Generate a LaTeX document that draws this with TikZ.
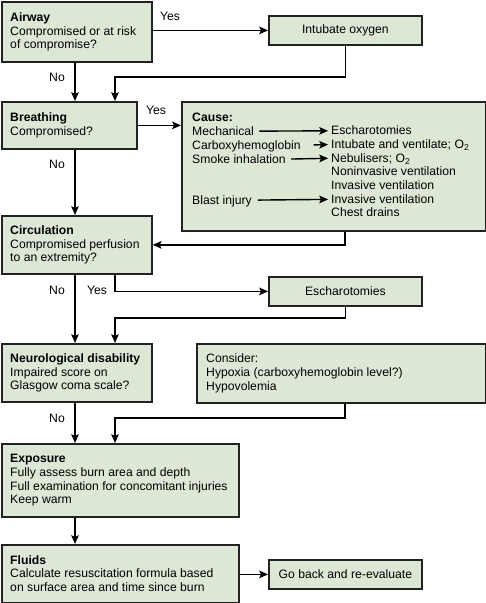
\documentclass[tikz,border=0pt]{standalone}
\usepackage{fontspec}
\setmainfont{Liberation Sans}
\usetikzlibrary{arrows.meta,positioning}
\definecolor{boxfill}{HTML}{DDE7D5}
\definecolor{boxline}{HTML}{222222}

\begin{document}
\begin{tikzpicture}[x=0.03cm, y=-0.03cm,
    box/.style={draw=boxline, fill=boxfill, line width=1.5pt, anchor=north west,
      inner sep=0pt, font=\fontsize{10.4}{11.7}\selectfont},
    txt/.style={anchor=west, align=left, inner sep=0pt, font=\fontsize{10.4}{11.7}\selectfont},
    item/.style={anchor=base west, inner sep=0pt, font=\fontsize{10.4}{11.7}\selectfont},
    lbl/.style={inner sep=0pt, font=\fontsize{10.4}{11.7}\selectfont},
    arr/.style={-{Stealth[length=7.5pt,width=6.5pt,inset=1.5pt]}, line width=1.2pt}]
    \useasboundingbox (0,0) rectangle (486,603);
    % Colonne delle frecce
    \coordinate (mainx) at (75,0);
    \coordinate (sidex) at (115,0);
    \coordinate (rightx) at (345,0);
    % Airway
    \node[box, minimum width=4.5cm, minimum height=1.8cm] (airway) at (1,1) {};
    \node[txt, right=0.27cm of airway.west] (airwaytxt) {\textbf{Airway}\\Compromised or at risk\\of compromise?};
    \node[box, minimum width=4.59cm, minimum height=0.87cm] (intubate) at (268,15) {Intubate oxygen};
    % Breathing
    \node[box, minimum width=4.05cm, minimum height=1.41cm] (breathing) at (1,101) {};
    \node[txt, right=0.27cm of breathing.west] (breathingtxt) {\textbf{Breathing}\\Compromised?};
    % Riquadro delle cause
    \node[box, minimum width=9.12cm, minimum height=3.87cm] (cause) at (181,101) {};
    \node[item] (causetitle) at (192,121) {\textbf{Cause:}};
    \node[item] (l1) at (192,135) {Mechanical};
    \node[item] (l2) at (192,149) {Carboxyhemoglobin};
    \node[item] (l3) at (192,163) {Smoke inhalation};
    \node[item] (l4) at (192,204) {Blast injury};
    \foreach \t [count=\i] in {Escharotomies, Intubate and ventilate; O\textsubscript{2},
        Nebulisers; O\textsubscript{2}, Noninvasive ventilation, Invasive ventilation,
        Invasive ventilation, Chest drains}
      \node[item] (r\i) at (331,{121+13.7*\i}) {\t};
    \draw[arr, shorten <=4.5pt, shorten >=2.5pt] ([yshift=3.3pt]l1.base east) -- ([yshift=3.3pt]r1.base west);
    \draw[arr, shorten <=11pt, shorten >=2.5pt] ([yshift=3.3pt]l2.base east) -- ([yshift=3.3pt]r2.base west);
    \draw[arr, shorten <=4.5pt, shorten >=2.5pt] ([yshift=3.3pt]l3.base east) -- ([yshift=3.3pt]r3.base west);
    \draw[arr, shorten <=5pt, shorten >=2.5pt] ([yshift=3.3pt]l4.base east) -- ([yshift=3.3pt]r6.base west);
    % Circulation
    \node[box, minimum width=4.5cm, minimum height=1.74cm] (circ) at (1,215) {};
    \node[txt, right=0.27cm of circ.west] (circtxt) {\textbf{Circulation}\\Compromised perfusion\\to an extremity?};
    \node[box, minimum width=4.59cm, minimum height=0.87cm] (eschar) at (268,276) {Escharotomies};
    % Neurological disability
    \node[box, minimum width=4.5cm, minimum height=1.74cm] (neuro) at (1,343) {};
    \node[txt, right=0.27cm of neuro.west] (neurotxt) {\textbf{Neurological disability}\\Impaired score on\\Glasgow coma scale?};
    \node[box, minimum width=8.67cm, minimum height=1.77cm] (consider) at (196,343) {};
    \node[txt, right=0.3cm of consider.west] (considertxt) {Consider:\\Hypoxia (carboxyhemoglobin level?)\\Hypovolemia};
    % Exposure
    \node[box, minimum width=7.11cm, minimum height=2.19cm] (expo) at (1,443) {};
    \node[txt, right=0.27cm of expo.west] (expotxt) {\textbf{Exposure}\\Fully assess burn area and depth\\Full examination for concomitant injuries\\Keep warm};
    % Fluids
    \node[box, minimum width=7.11cm, minimum height=1.725cm] (fluids) at (1,544) {};
    \node[txt, right=0.27cm of fluids.west] (fluidstxt) {\textbf{Fluids}\\Calculate resuscitation formula based\\on surface area and time since burn};
    \node[box, minimum width=4.59cm, minimum height=0.87cm] (goback) at (268,559) {Go back and re-evaluate};
    % Punti di raccordo
    \coordinate (j1) at (115,77);
    \coordinate (j2) at (115,318);
    \coordinate (j3) at (115,418);
    % Frecce principali
    \draw[arr] (mainx |- airway.south) -- (mainx |- breathing.north);
    \draw[arr] (mainx |- breathing.south) -- (mainx |- circ.north);
    \draw[arr] (mainx |- circ.south) -- (mainx |- neuro.north);
    \draw[arr] (mainx |- neuro.south) -- (mainx |- expo.north);
    \draw[arr] (mainx |- expo.south) -- (mainx |- fluids.north);
    % Rami laterali
    \draw[arr] (airway.east |- intubate.west) -- (intubate.west);
    \draw[arr] (intubate.south) |- (j1) -- (sidex |- breathing.north);
    \draw[arr] (breathing.east) -- (breathing.east -| cause.west);
    \draw[arr] (rightx |- cause.south) |- (circ.east);
    \draw[arr] (sidex |- circ.south) |- (eschar.west);
    \draw[arr] (eschar.south) |- (j2) -- (sidex |- neuro.north);
    \draw[arr] (rightx |- consider.south) |- (j3) -- (sidex |- expo.north);
    \draw[arr] (fluids.east |- goback.west) -- (goback.west);
    % Etichette Yes / No
    \node[lbl] (yes1) at (170,16) {Yes};
    \node[lbl] (no1) at (57,77) {No};
    \node[lbl] (yes2) at (156,110) {Yes};
    \node[lbl] (no2) at (57,164) {No};
    \node[lbl] (no3) at (57,290) {No};
    \node[lbl] (yes3) at (97,290) {Yes};
    \node[lbl] (no4) at (57,418) {No};
\end{tikzpicture}
\end{document}
